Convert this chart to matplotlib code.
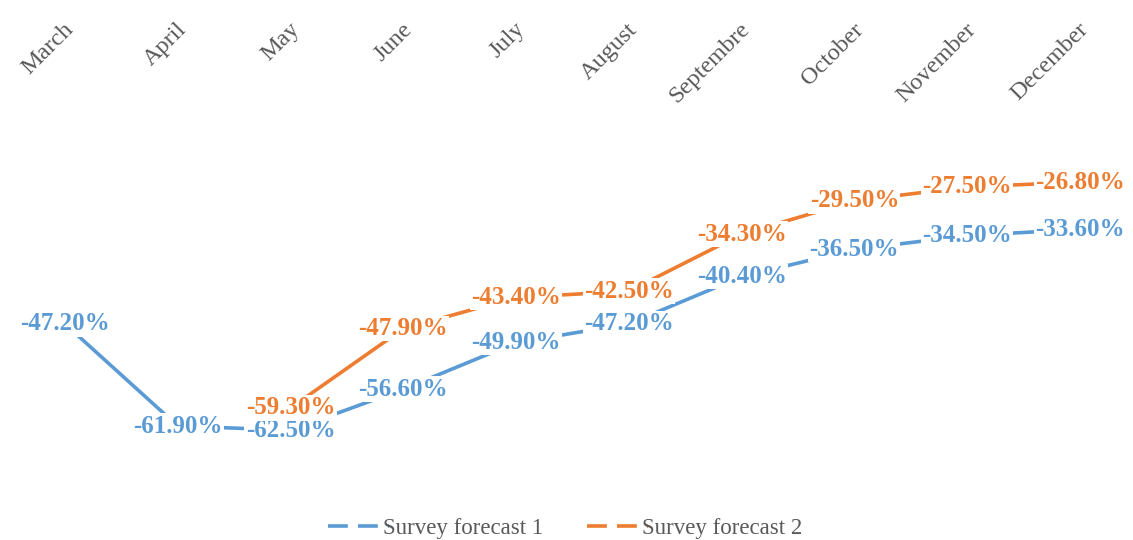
import numpy as np
import matplotlib
matplotlib.use("Agg")
import matplotlib.pyplot as plt
from matplotlib.lines import Line2D

months = ["March", "April", "May", "June", "July", "August", "Septembre",
          "October", "November", "December"]
forecast1 = [-47.2, -61.9, -62.5, -56.6, -49.9, -47.2, -40.4, -36.5, -34.5, -33.6]
forecast2 = [np.nan, np.nan, -59.3, -47.9, -43.4, -42.5, -34.3, -29.5, -27.5, -26.8]
series_names = ["Survey forecast 1", "Survey forecast 2"]

BLUE = "#5B9BD5"
ORANGE = "#ED7D31"
GRAY = "#595959"

plt.rcParams['font.family'] = ['Liberation Serif', 'DejaVu Serif']

fig = plt.figure(figsize=(11.33, 5.4), dpi=100)
ax = fig.add_axes([0, 0, 1, 1])
ax.axis('off')

x = np.arange(len(months))
ax.set_xlim(-0.576, 9.47)
ax.set_ylim(-78.3, -0.6)

for vals, col in [(forecast1, BLUE), (forecast2, ORANGE)]:
    ax.plot(x, vals, color=col, lw=2.6, solid_capstyle='butt', zorder=2)
    for xi, v in zip(x, vals):
        if np.isnan(v):
            continue
        ax.text(xi, v, f"{v:.2f}%", color=col, fontsize=18, fontweight='bold',
                ha='center', va='center', zorder=3,
                bbox=dict(boxstyle='square,pad=0.05', fc='white', ec='none'))

# category labels on top, rotated
for xi, m in zip(x, months):
    ax.annotate(m, xy=(xi, 521), xycoords=('data', 'figure pixels'),
                xytext=(-2, 0), textcoords='offset pixels',
                rotation=45, rotation_mode='anchor', ha='right', va='top',
                fontsize=17.5, color=GRAY)

handles = [Line2D([], [], color=BLUE, lw=2.6, dashes=(5.5, 2.8)),
           Line2D([], [], color=ORANGE, lw=2.6, dashes=(5.5, 2.8))]
leg = ax.legend(handles, series_names, loc='center',
                bbox_to_anchor=(0.499, 0.021), ncol=2, frameon=False,
                fontsize=16.5, labelcolor=GRAY, handlelength=2.65,
                handletextpad=-0.25, columnspacing=1.9)

fig.savefig("out.png", dpi=100)
